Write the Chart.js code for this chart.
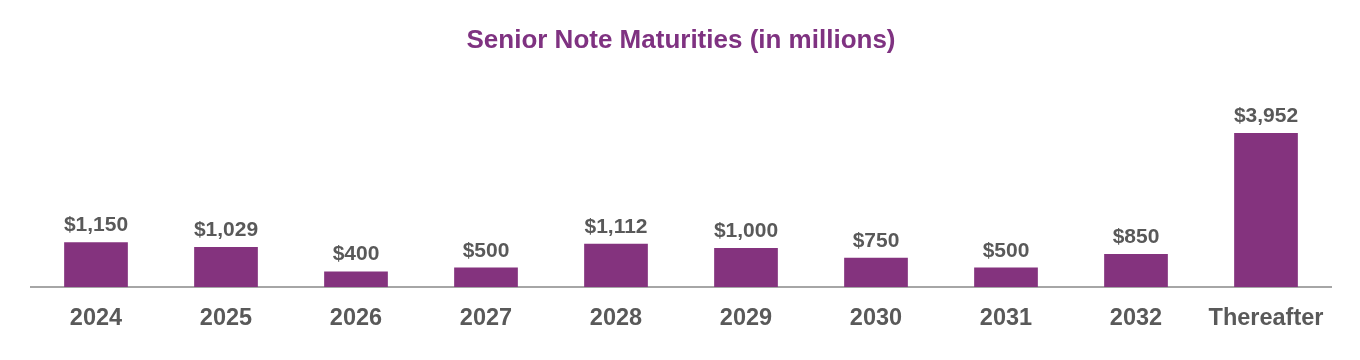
<!DOCTYPE html>
<html>
<head>
<meta charset="utf-8">
<script src="https://cdn.jsdelivr.net/npm/chart.js@4/dist/chart.umd.min.js"></script>
<style>
  html, body { margin: 0; padding: 0; background: #ffffff; }
  #wrap { width: 1360px; height: 360px; position: relative; }
</style>
</head>
<body>
<div id="wrap"><canvas id="c" width="1360" height="360"></canvas></div>
<script>
const categories = ['2024', '2025', '2026', '2027', '2028', '2029', '2030', '2031', '2032', 'Thereafter'];
const maturities = [1150, 1029, 400, 500, 1112, 1000, 750, 500, 850, 3952];
const valueLabels = ['$1,150', '$1,029', '$400', '$500', '$1,112', '$1,000', '$750', '$500', '$850', '$3,952'];

const PURPLE = '#84337E';
const GREY_TEXT = '#595959';

const valueLabelPlugin = {
  id: 'valueLabels',
  afterDatasetsDraw(chart) {
    const ctx = chart.ctx;
    const meta = chart.getDatasetMeta(0);
    ctx.save();
    ctx.font = 'bold 21px "Liberation Sans", Arial, sans-serif';
    ctx.fillStyle = GREY_TEXT;
    ctx.textAlign = 'center';
    ctx.textBaseline = 'alphabetic';
    meta.data.forEach((bar, i) => {
      ctx.fillText(valueLabels[i], bar.x, bar.y - 11);
    });
    ctx.restore();
  }
};

new Chart(document.getElementById('c'), {
  type: 'bar',
  data: {
    labels: categories,
    datasets: [{
      data: maturities,
      backgroundColor: PURPLE,
      borderWidth: 0,
      categoryPercentage: 1.0,
      barPercentage: 0.49
    }]
  },
  options: {
    responsive: false,
    animation: false,
    devicePixelRatio: 1,
    layout: { padding: { left: 31, right: 29, top: 0, bottom: 0 } },
    plugins: {
      legend: { display: false },
      tooltip: { enabled: false },
      title: {
        display: true,
        text: 'Senior Note Maturities (in millions)',
        color: '#7F3281',
        font: { family: '"Liberation Sans", Arial, sans-serif', size: 26, weight: 'bold' },
        padding: { top: 25, bottom: 36 }
      }
    },
    scales: {
      x: {
        grid: { display: false, drawTicks: false },
        border: { display: true, color: '#A6A6A6', width: 2 },
        ticks: {
          color: GREY_TEXT,
          padding: 17,
          font: { family: '"Liberation Sans", Arial, sans-serif', size: 23.5, weight: 'bold' }
        },
        afterFit(scale) { scale.height = 73; }
      },
      y: {
        display: false,
        min: 0,
        max: 5000
      }
    }
  },
  plugins: [valueLabelPlugin]
});
</script>
</body>
</html>
